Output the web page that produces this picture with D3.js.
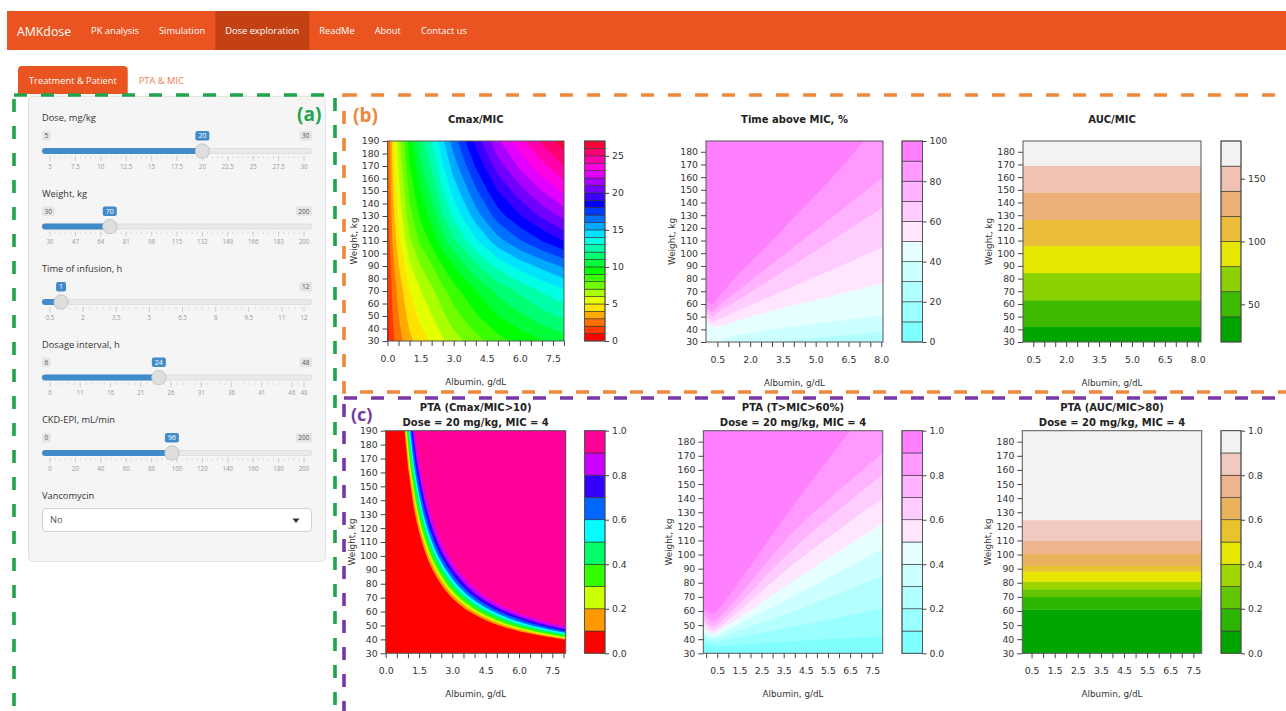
<!DOCTYPE html>
<html>
<head>
<meta charset="utf-8">
<title>AMKdose – Dose exploration</title>
<script src="https://cdn.jsdelivr.net/npm/d3@7"></script>
<style>
  html, body { margin: 0; padding: 0; background: #fff; }
  svg { display: block; }
</style>
</head>
<body>
<svg id="page" width="1286" height="711"></svg>
<script>
// ===================== data =====================

// navigation
const brandName = "AMKdose";
const navItems = ["PK analysis", "Simulation", "Dose exploration", "ReadMe", "About", "Contact us"];
const navActive = "Dose exploration";
const tabItems = ["Treatment & Patient", "PTA & MIC"];

// sidebar inputs
const sliderLabels = ["Dose, mg/kg", "Weight, kg", "Time of infusion, h", "Dosage interval, h", "CKD-EPI, mL/min"];
const sliderMin = [5, 30, 0.5, 6, 0];
const sliderMax = [30, 200, 12, 48, 200];
const sliderValue = [20, 70, 1, 24, 96];
const sliderGrid = [
  [5, 7.5, 10, 12.5, 15, 17.5, 20, 22.5, 25, 27.5, 30],
  [30, 47, 64, 81, 98, 115, 132, 149, 166, 183, 200],
  [0.5, 2, 3.5, 5, 6.5, 8, 9.5, 11, 12],
  [6, 11, 16, 21, 26, 31, 36, 41, 46, 48],
  [0, 20, 40, 60, 80, 100, 120, 140, 160, 180, 200]
];
const selectLabel = "Vancomycin";
const selectValue = "No";

// (b) Cmax/MIC surface: rows = weight, columns = albumin
const cmaxAlbumin = [0, 0.25, 0.5, 1, 1.5, 2, 2.5, 3, 4, 5, 6, 7, 8];
const cmaxWeight = [30, 50, 70, 90, 110, 130, 150, 170, 190];
const cmaxOverMic = [
  [0.71, 1.78, 2.57, 3.75, 4.54, 5.14, 5.85, 6.52, 7.62, 8.61, 9.32, 9.95, 10.5],
  [0.83, 2.07, 2.98, 4.36, 5.28, 5.97, 6.79, 7.57, 8.86, 10.0, 10.8, 11.6, 12.2],
  [0.93, 2.34, 3.37, 4.93, 5.97, 6.75, 7.68, 8.56, 10.0, 11.3, 12.2, 13.1, 13.8],
  [1.10, 2.74, 3.96, 5.79, 7.00, 7.92, 9.01, 10.0, 11.8, 13.3, 14.4, 15.3, 16.2],
  [1.29, 3.21, 4.64, 6.78, 8.21, 9.28, 10.6, 11.8, 13.8, 15.6, 16.9, 18.0, 19.0],
  [1.44, 3.60, 5.21, 7.61, 9.21, 10.4, 11.9, 13.2, 15.5, 17.5, 18.9, 20.2, 21.3],
  [1.57, 3.92, 5.67, 8.28, 10.0, 11.3, 12.9, 14.4, 16.8, 19.0, 20.6, 22.0, 23.2],
  [1.69, 4.23, 6.11, 8.93, 10.8, 12.2, 13.9, 15.5, 18.1, 20.5, 22.2, 23.7, 25.0],
  [1.80, 4.50, 6.50, 9.50, 11.5, 13.0, 14.8, 16.5, 19.3, 21.8, 23.6, 25.2, 26.6]
];
const cmaxLevels = [0, 1, 2, 3, 4, 5, 6, 7, 8, 9, 10, 11, 12, 13, 14, 15, 16, 17, 18, 19, 20, 21, 22, 23, 24, 25, 26, 27];

// (b) Time above MIC, %: iso-lines [albumin, weight]
const timeBarLevels = [0, 10, 20, 30, 40, 50, 60, 70, 80, 90, 100];
const timeFloor = 20;
const timeLevels = [30, 40, 50, 60, 70, 80, 90];
const timeContours = [
  [[3, 30], [5, 33], [8.08, 38]],
  [[0.6, 30], [1, 33.5], [2, 37], [4, 42], [6, 46.5], [8.08, 51]],
  [[-0.02, 47], [0.3, 42], [0.6, 42.5], [2, 50], [4, 59], [6, 67.5], [8.08, 76.5]],
  [[-0.02, 50], [0.3, 46], [0.6, 48], [2, 59], [4, 74], [6, 89], [8.08, 105]],
  [[-0.02, 54], [0.3, 50], [0.6, 54], [2, 69], [4, 91], [6, 113], [8.08, 136]],
  [[-0.02, 57], [0.3, 54], [0.6, 59], [2, 78], [4, 105], [6, 132], [8.08, 160]],
  [[-0.02, 62], [0.3, 60], [0.6, 66], [1.5, 84], [2.5, 101], [3.5, 119], [4.5, 137], [5.5, 155], [6.5, 174], [7.2, 188.5]]
];

// (b) AUC/MIC: weight at which each level is crossed
const aucLevels = [20, 40, 60, 80, 100, 120, 140, 160, 180];
const aucBreakWeight = [42, 63, 84.5, 106, 126.5, 148, 169];

// (c) PTA levels shared by the three maps
const ptaLevels = [0, 0.1, 0.2, 0.3, 0.4, 0.5, 0.6, 0.7, 0.8, 0.9, 1.0];

// (c) PTA (Cmax/MIC>10): iso-lines for 0.1 ... 0.9
const ptaCmaxLevels = [0.1, 0.2, 0.3, 0.4, 0.5, 0.6, 0.7, 0.8, 0.9];
const ptaCmaxContours = [
  [[0.85, 190], [1.04, 160], [1.32, 130], [1.63, 110], [1.96, 95], [2.47, 80], [2.98, 70], [3.76, 60], [4.77, 52], [5.96, 46], [8.1, 39.7]],
  [[0.90, 190], [1.09, 160], [1.40, 130], [1.72, 110], [2.07, 95], [2.60, 80], [3.15, 70], [3.97, 60], [5.03, 52], [6.29, 46], [8.1, 40.6]],
  [[0.95, 190], [1.15, 160], [1.47, 130], [1.81, 110], [2.18, 95], [2.74, 80], [3.31, 70], [4.18, 60], [5.30, 52], [6.63, 46], [8.1, 41.6]],
  [[0.99, 190], [1.21, 160], [1.55, 130], [1.90, 110], [2.29, 95], [2.88, 80], [3.48, 70], [4.39, 60], [5.57, 52], [6.96, 46], [8.1, 42.6]],
  [[1.04, 190], [1.27, 160], [1.62, 130], [1.99, 110], [2.40, 95], [3.02, 80], [3.65, 70], [4.61, 60], [5.83, 52], [7.29, 46], [8.1, 43.6]],
  [[1.10, 190], [1.33, 160], [1.70, 130], [2.09, 110], [2.52, 95], [3.17, 80], [3.83, 70], [4.84, 60], [6.13, 52], [7.67, 46], [8.1, 44.7]],
  [[1.15, 190], [1.41, 160], [1.80, 130], [2.20, 110], [2.66, 95], [3.34, 80], [4.04, 70], [5.11, 60], [6.47, 52], [8.1, 45.9]],
  [[1.23, 190], [1.49, 160], [1.91, 130], [2.34, 110], [2.82, 95], [3.55, 80], [4.29, 70], [5.42, 60], [6.87, 52], [8.1, 47.4]],
  [[1.31, 190], [1.59, 160], [2.04, 130], [2.50, 110], [3.01, 95], [3.79, 80], [4.58, 70], [5.79, 60], [7.33, 52], [8.1, 49.2]]
];

// (c) PTA (T>MIC>60%): iso-lines for 0.1 ... 0.9
const ptaTimeLevels = [0.1, 0.2, 0.3, 0.4, 0.5, 0.6, 0.7, 0.8, 0.9];
const ptaTimeContours = [
  [[-0.13, 38], [0.3, 35], [1, 35.5], [4, 38.5], [7.97, 42]],
  [[-0.13, 41], [0.3, 38], [1, 40], [4, 49], [7.97, 62]],
  [[-0.13, 43], [0.3, 40], [1, 43.5], [4, 60], [7.97, 85]],
  [[-0.13, 45.5], [0.3, 42], [1, 47], [4, 71], [7.97, 104]],
  [[-0.13, 48], [0.3, 44], [1, 50], [4, 82], [7.97, 122]],
  [[-0.13, 51], [0.3, 46], [1, 53.5], [4, 94], [7.97, 140]],
  [[-0.13, 54], [0.3, 49], [1, 57.5], [4, 105], [7.97, 157]],
  [[-0.13, 57.5], [0.3, 52.5], [1, 62], [4, 117], [7.97, 172]],
  [[-0.13, 62], [0.3, 58], [1, 70], [2, 92], [4, 136], [6.5, 187.8]]
];

// (c) PTA (AUC/MIC>80): weight at which 0.1 ... 0.9 is crossed
const ptaAucBreakWeight = [61, 70, 75.5, 81, 88, 92, 101, 110, 124.5];

// ===================== helpers =====================
const svg = d3.select("#page");
const W = 1286;
const UI = "'Open Sans', 'DejaVu Sans', sans-serif";
const PF = "'DejaVu Sans', sans-serif";

function hsv(h, s, v) {
  const i = Math.floor(h * 6), f = h * 6 - i;
  const p = v * (1 - s), q = v * (1 - f * s), t = v * (1 - (1 - f) * s);
  let r, g, b;
  switch (((i % 6) + 6) % 6) {
    case 0: r = v; g = t; b = p; break;
    case 1: r = q; g = v; b = p; break;
    case 2: r = p; g = v; b = t; break;
    case 3: r = p; g = q; b = v; break;
    case 4: r = t; g = p; b = v; break;
    default: r = v; g = p; b = q;
  }
  return d3.rgb(r * 255, g * 255, b * 255).formatHex();
}
const seq = (a, b, n) => n === 1 ? [a] : d3.range(n).map(i => a + (b - a) * i / (n - 1));
function rainbow(n) { return d3.range(n).map(k => hsv(k / n, 1, 1)); }
function cmColors(n) {
  const even = n % 2 === 0, k = Math.floor(n / 2);
  const l1 = k + 1 - (even ? 1 : 0), l2 = n - k + (even ? 1 : 0);
  const c1 = seq(0.5, even ? 0.5 / k : 0, l1).map(s => hsv(6 / 12, s, 1));
  const c2 = seq(0, 0.5, l2).slice(1).map(s => hsv(10 / 12, s, 1));
  return c1.concat(c2);
}
function terrainColors(n) {
  const k = Math.floor(n / 2), m = n - k + 1;
  const h1 = seq(4 / 12, 2 / 12, k), v1 = seq(0.65, 0.9, k);
  const h2 = seq(2 / 12, 0, m).slice(1), s2 = seq(1, 0, m).slice(1), v2 = seq(0.9, 0.95, m).slice(1);
  return h1.map((h, i) => hsv(h, 1, v1[i])).concat(h2.map((h, i) => hsv(h, s2[i], v2[i])));
}
const bandIndex = (levels, v) => d3.bisectLeft(levels, v - 1e-9);

// ===================== page chrome =====================
// navbar
svg.append("rect").attr("x", 7).attr("y", 11).attr("width", W - 7).attr("height", 39).attr("fill", "#E95420");
const navBg = svg.append("g");
const brand = svg.append("text").attr("x", 17).attr("y", 35.5)
  .attr("font-family", UI).attr("font-size", 12.3).attr("fill", "#fff").text(brandName);
let cursor = 17 + brand.node().getComputedTextLength() + 10;
navItems.forEach(name => {
  const t = svg.append("text").attr("x", cursor + 10).attr("y", 34.3)
    .attr("font-family", UI).attr("font-size", 9.3).attr("fill", "#fff").text(name);
  const w = t.node().getComputedTextLength();
  if (name === navActive) {
    navBg.append("rect").attr("x", cursor).attr("y", 11).attr("width", w + 20).attr("height", 39).attr("fill", "#C34113");
  }
  cursor += w + 20;
});

// tabs
{
  const t0 = svg.append("text").attr("font-family", UI).attr("font-size", 9.3).text(tabItems[0]);
  const w0 = t0.node().getComputedTextLength();
  t0.remove();
  const tabW = w0 + 22;
  svg.append("path")
    .attr("d", `M18,94 V70 Q18,66 22,66 H${18 + tabW - 4} Q${18 + tabW},66 ${18 + tabW},70 V94 Z`)
    .attr("fill", "#E95420");
  svg.append("text").attr("x", 18 + tabW / 2).attr("y", 83.5).attr("text-anchor", "middle")
    .attr("font-family", UI).attr("font-size", 9.3).attr("fill", "#fff").text(tabItems[0]);
  svg.append("text").attr("x", 18 + tabW + 11).attr("y", 83.5)
    .attr("font-family", UI).attr("font-size", 9.3).attr("fill", "#EC7A50").text(tabItems[1]);
}

// sidebar well
svg.append("rect").attr("x", 28.5).attr("y", 96.5).attr("width", 297).attr("height", 465)
  .attr("rx", 4).attr("fill", "#f5f5f5").attr("stroke", "#e3e3e3");

// sliders
sliderLabels.forEach((label, i) => {
  const ty = 151 + i * 75.5;
  const g = svg.append("g");
  const sx = d3.scaleLinear().domain([sliderMin[i], sliderMax[i]]).range([50, 304]);
  const fmt = v => String(v);
  g.append("text").attr("x", 42).attr("y", ty - 30).attr("font-family", UI).attr("font-size", 9.3)
    .attr("fill", "#333").text(label);
  // track
  g.append("rect").attr("x", 42).attr("y", ty - 2.5).attr("width", 270).attr("height", 5).attr("rx", 2.5)
    .attr("fill", "#e9e9e9").attr("stroke", "#d4d4d4").attr("stroke-width", 0.6);
  g.append("rect").attr("x", 42).attr("y", ty - 3).attr("width", sx(sliderValue[i]) - 42).attr("height", 6).attr("rx", 3)
    .attr("fill", "#428bca");
  // grid
  const grid = sliderGrid[i];
  const big = sx(grid[1]) - sx(grid[0]);
  for (let px = 50; px <= 304.01; px += big / 5) {
    g.append("line").attr("x1", px).attr("x2", px).attr("y1", ty + 5).attr("y2", ty + 7.5)
      .attr("stroke", "#d0d0d0").attr("stroke-width", 0.7);
  }
  grid.forEach(v => {
    g.append("line").attr("x1", sx(v)).attr("x2", sx(v)).attr("y1", ty + 5).attr("y2", ty + 10)
      .attr("stroke", "#c8c8c8").attr("stroke-width", 0.8);
    g.append("text").attr("x", sx(v)).attr("y", ty + 17.5).attr("text-anchor", "middle")
      .attr("font-family", UI).attr("font-size", 6.2).attr("fill", "#999").text(fmt(v));
  });
  // handle
  g.append("circle").attr("cx", sx(sliderValue[i])).attr("cy", ty).attr("r", 7.2)
    .attr("fill", "#dedede").attr("stroke", "#bdbdbd").attr("stroke-width", 0.8);
  // value bubble
  const vb = g.append("g");
  const vt = vb.append("text").attr("x", sx(sliderValue[i])).attr("y", ty - 12.8).attr("text-anchor", "middle")
    .attr("font-family", UI).attr("font-size", 7).attr("fill", "#fff").text(fmt(sliderValue[i]));
  const vw = vt.node().getComputedTextLength() + 6;
  const vLeft = sx(sliderValue[i]) - vw / 2, vRight = sx(sliderValue[i]) + vw / 2;
  vb.insert("rect", "text").attr("x", vLeft).attr("y", ty - 20).attr("width", vw).attr("height", 9.5)
    .attr("rx", 2).attr("fill", "#428bca");
  // min / max boxes
  [[sliderMin[i], "start"], [sliderMax[i], "end"]].forEach(([v, anchor]) => {
    const bx = g.append("g");
    const t = bx.append("text").attr("font-family", UI).attr("font-size", 6.5).attr("fill", "#555")
      .attr("y", ty - 12.8).text(fmt(v));
    const w = t.node().getComputedTextLength() + 5;
    const left = anchor === "start" ? 42 : 312 - w;
    if (left < vRight + 1 && left + w > vLeft - 1) { bx.remove(); return; }
    t.attr("x", left + w / 2).attr("text-anchor", "middle");
    bx.insert("rect", "text").attr("x", left).attr("y", ty - 20).attr("width", w).attr("height", 9.5)
      .attr("rx", 1.5).attr("fill", "#e5e5e5");
  });
});

// select input
svg.append("text").attr("x", 42).attr("y", 498.5).attr("font-family", UI).attr("font-size", 9.3)
  .attr("fill", "#333").text(selectLabel);
svg.append("rect").attr("x", 42.5).attr("y", 508.5).attr("width", 269).attr("height", 23).attr("rx", 3.5)
  .attr("fill", "#fff").attr("stroke", "#d2d2d2");
svg.append("text").attr("x", 50).attr("y", 523.3).attr("font-family", UI).attr("font-size", 9.3)
  .attr("fill", "#555").text(selectValue);
svg.append("path").attr("d", "M292.5,518.5 L299.5,518.5 L296,523 Z").attr("fill", "#333");

// ===================== plots =====================
function gridField(albumin, weight, values, levels, colors) {
  return (g, x, y) => {
    const nx = albumin.length, ny = weight.length;
    const ix = d3.scaleLinear().domain(d3.range(nx)).range(albumin);
    const iy = d3.scaleLinear().domain(d3.range(ny)).range(weight);
    const proj = d3.geoTransform({
      point(u, v) {
        const a = ix(Math.max(0, Math.min(nx - 1, u - 0.5)));
        const w = iy(Math.max(0, Math.min(ny - 1, v - 0.5)));
        this.stream.point(x(a), y(w));
      }
    });
    const path = d3.geoPath(proj);
    const bands = d3.contours().size([nx, ny]).thresholds(levels.slice(0, -1))(values.flat());
    g.selectAll("path.band").data(bands).join("path").attr("class", "band")
      .attr("d", path).attr("fill", d => colors[bandIndex(levels, d.value)]);
  };
}

// filled iso-lines: the high side of every line lies towards `high` ("topLeft" | "topRight")
function lineField(barLevels, floor, levels, lines, colors, high) {
  return (g, x, y) => {
    const [x0, x1] = x.domain(), [y0, y1] = y.domain();
    g.append("rect").attr("x", x(x0)).attr("y", y(y1)).attr("width", x(x1) - x(x0)).attr("height", y(y0) - y(y1))
      .attr("fill", colors[bandIndex(barLevels, floor)]);
    const line = d3.line().x(d => x(d[0])).y(d => y(d[1])).curve(d3.curveCatmullRom.alpha(0.5));
    const corners = high === "topLeft" ? [[x1, y1], [x0, y1], [x0, y0]] : [[x1, y0], [x1, y1]];
    levels.forEach((lv, k) => {
      const d = line(lines[k]) + corners.map(c => `L${x(c[0])},${y(c[1])}`).join("") + "Z";
      g.append("path").attr("d", d).attr("fill", colors[bandIndex(barLevels, lv)]);
    });
  };
}

function stripField(levels, breaks, colors) {
  return (g, x, y) => {
    const [x0, x1] = x.domain(), [y0, y1] = y.domain();
    const bounds = [y0, ...breaks, y1];
    d3.range(bounds.length - 1).forEach(i => {
      g.append("rect").attr("x", x(x0)).attr("width", x(x1) - x(x0))
        .attr("y", y(bounds[i + 1])).attr("height", y(bounds[i]) - y(bounds[i + 1]) + 0.3)
        .attr("fill", colors[i]);
    });
  };
}

const stepTicks = (from, to, lo, hi) => d3.range(from, to + 1e-9, 0.5).filter(v => v >= lo - 1e-9 && v <= hi + 1e-9);

const rb27 = rainbow(27), rb10 = rainbow(10), cm10 = cmColors(10), tr8 = terrainColors(8), tr10 = terrainColors(10);

const panels = [
  { box: [387.5, 564, 141, 341], xDomain: [0, 8], yDomain: [30, 190],
    xTicks: stepTicks(0, 8, 0, 8), xLabels: [0, 1.5, 3, 4.5, 6, 7.5], yTicks: d3.range(30, 191, 10),
    cb: [584.5, 605], cbLevels: cmaxLevels, cbColors: rb27, cbTicks: [0, 5, 10, 15, 20, 25], cbFmt: d3.format("d"),
    title: ["Cmax/MIC"],
    field: gridField(cmaxAlbumin, cmaxWeight, cmaxOverMic, cmaxLevels, rb27) },
  { box: [706, 883, 141, 342], xDomain: [-0.02, 8.08], yDomain: [30, 188.5],
    xTicks: stepTicks(0.5, 8, -0.02, 8.08), xLabels: [0.5, 2, 3.5, 5, 6.5, 8], yTicks: d3.range(30, 181, 10),
    cb: [902, 922.5], cbLevels: timeBarLevels, cbColors: cm10, cbTicks: [0, 20, 40, 60, 80, 100], cbFmt: d3.format("d"),
    title: ["Time above MIC, %"],
    field: lineField(timeBarLevels, timeFloor, timeLevels, timeContours, cm10, "topLeft") },
  { box: [1023, 1201, 141, 342], xDomain: [0.03, 8.15], yDomain: [30, 188.5],
    xTicks: stepTicks(0.5, 8, 0.03, 8.15), xLabels: [0.5, 2, 3.5, 5, 6.5, 8], yTicks: d3.range(30, 181, 10),
    cb: [1221, 1241], cbLevels: aucLevels, cbColors: tr8, cbTicks: [50, 100, 150], cbFmt: d3.format("d"),
    title: ["AUC/MIC"],
    field: stripField(aucLevels, aucBreakWeight, tr8) },
  { box: [385.7, 565.7, 430.7, 653.3], xDomain: [0, 8.1], yDomain: [30, 190],
    xTicks: stepTicks(0, 8, 0, 8.1), xLabels: [0, 1.5, 3, 4.5, 6, 7.5], yTicks: d3.range(30, 191, 10),
    cb: [584.5, 605], cbLevels: ptaLevels, cbColors: rb10, cbTicks: [0, 0.2, 0.4, 0.6, 0.8, 1], cbFmt: d3.format(".1f"),
    title: ["PTA (Cmax/MIC>10)", "Dose = 20 mg/kg, MIC = 4"],
    field: lineField(ptaLevels, 0, ptaCmaxLevels, ptaCmaxContours, rb10, "topRight") },
  { box: [703.3, 882.7, 430.7, 653.3], xDomain: [-0.13, 7.97], yDomain: [30, 187.8],
    xTicks: stepTicks(0, 7.5, -0.13, 7.97), xLabels: [0.5, 1.5, 2.5, 3.5, 4.5, 5.5, 6.5, 7.5], yTicks: d3.range(30, 181, 10),
    cb: [902, 922.5], cbLevels: ptaLevels, cbColors: cm10, cbTicks: [0, 0.2, 0.4, 0.6, 0.8, 1], cbFmt: d3.format(".1f"),
    title: ["PTA (T>MIC>60%)", "Dose = 20 mg/kg, MIC = 4"],
    field: lineField(ptaLevels, 0, ptaTimeLevels, ptaTimeContours, cm10, "topLeft") },
  { box: [1022.3, 1201.7, 430.7, 653.3], xDomain: [0.1, 7.86], yDomain: [30, 187.8],
    xTicks: stepTicks(0.5, 7.5, 0.1, 7.86), xLabels: [0.5, 1.5, 2.5, 3.5, 4.5, 5.5, 6.5, 7.5], yTicks: d3.range(30, 181, 10),
    cb: [1221, 1241], cbLevels: ptaLevels, cbColors: tr10, cbTicks: [0, 0.2, 0.4, 0.6, 0.8, 1], cbFmt: d3.format(".1f"),
    title: ["PTA (AUC/MIC>80)", "Dose = 20 mg/kg, MIC = 4"],
    field: stripField(ptaLevels, ptaAucBreakWeight, tr10) }
];

const defs = svg.append("defs");
panels.forEach((p, idx) => {
  const [bx0, bx1, by0, by1] = p.box;
  const x = d3.scaleLinear().domain(p.xDomain).range([bx0, bx1]);
  const y = d3.scaleLinear().domain(p.yDomain).range([by1, by0]);
  const g = svg.append("g");

  defs.append("clipPath").attr("id", "plot-clip-" + idx).append("rect")
    .attr("x", bx0).attr("y", by0).attr("width", bx1 - bx0).attr("height", by1 - by0);
  const field = g.append("g").attr("clip-path", `url(#plot-clip-${idx})`);
  p.field(field, x, y);

  g.append("rect").attr("x", bx0).attr("y", by0).attr("width", bx1 - bx0).attr("height", by1 - by0)
    .attr("fill", "none").attr("stroke", "#555").attr("stroke-width", 1);

  const isLabel = v => p.xLabels.some(l => Math.abs(l - v) < 1e-6);
  const xa = g.append("g").attr("transform", `translate(0,${by1})`)
    .call(d3.axisBottom(x).tickValues(p.xTicks).tickSize(5).tickPadding(9.5)
      .tickFormat(v => isLabel(v) ? v.toFixed(1) : ""));
  const ya = g.append("g").attr("transform", `translate(${bx0},0)`)
    .call(d3.axisLeft(y).tickValues(p.yTicks).tickSize(5).tickPadding(3).tickFormat(d3.format("d")));
  [xa, ya].forEach(a => {
    a.select(".domain").remove();
    a.selectAll("line").attr("stroke", "#444");
    a.selectAll("text").attr("font-family", PF).attr("font-size", 9.3).attr("fill", "#333");
  });

  // colour key
  const [cx0, cx1] = p.cb;
  const cy = d3.scaleLinear().domain([p.cbLevels[0], p.cbLevels[p.cbLevels.length - 1]]).range([by1, by0]);
  const key = g.append("g");
  d3.range(p.cbLevels.length - 1).forEach(i => {
    key.append("rect").attr("x", cx0).attr("width", cx1 - cx0)
      .attr("y", cy(p.cbLevels[i + 1])).attr("height", cy(p.cbLevels[i]) - cy(p.cbLevels[i + 1]))
      .attr("fill", p.cbColors[i]).attr("stroke", "#333").attr("stroke-width", 0.6);
  });
  key.append("rect").attr("x", cx0).attr("y", by0).attr("width", cx1 - cx0).attr("height", by1 - by0)
    .attr("fill", "none").attr("stroke", "#555").attr("stroke-width", 1);
  const ka = key.append("g").attr("transform", `translate(${cx1},0)`)
    .call(d3.axisRight(cy).tickValues(p.cbTicks).tickSize(4).tickPadding(3).tickFormat(p.cbFmt));
  ka.select(".domain").remove();
  ka.selectAll("line").attr("stroke", "#444");
  ka.selectAll("text").attr("font-family", PF).attr("font-size", 9.3).attr("fill", "#333");

  // titles
  const cxm = (bx0 + bx1) / 2;
  const tBase = p.title.length === 1 ? by0 - 18.5 : by0 - 19.7;
  p.title.forEach((t, k) => {
    g.append("text").attr("x", cxm).attr("y", tBase + k * 14.5)
      .attr("text-anchor", "middle").attr("font-family", PF).attr("font-weight", "bold")
      .attr("font-size", 10).attr("fill", "#222").text(t);
  });
  g.append("text").attr("x", cxm).attr("y", by1 + 43.5).attr("text-anchor", "middle")
    .attr("font-family", PF).attr("font-size", 8.8).attr("fill", "#333").text("Albumin, g/dL");
  g.append("text").attr("transform", `translate(${bx0 - 34},${(by0 + by1) / 2}) rotate(-90)`)
    .attr("text-anchor", "middle").attr("dy", "0.35em")
    .attr("font-family", PF).attr("font-size", 8.8).attr("fill", "#333").text("Weight, kg");
});

// ===================== section frames =====================
const frames = [
  { x: 14, y: 95, w: 321, h: 700, color: "#20A44C", tag: "(a)", tx: 297, ty: 121 },
  { x: 344, y: 95, w: 1000, h: 297, color: "#EE883A", tag: "(b)", tx: 353, ty: 122 },
  { x: 344, y: 398, w: 1000, h: 400, color: "#7638A6", tag: "(c)", tx: 351, ty: 420.5 }
];
frames.forEach(f => {
  svg.append("rect").attr("x", f.x).attr("y", f.y).attr("width", f.w).attr("height", f.h)
    .attr("fill", "none").attr("stroke", f.color).attr("stroke-width", 3.6).attr("stroke-dasharray", "13 14");
  svg.append("text").attr("x", f.tx).attr("y", f.ty).attr("font-family", UI).attr("font-weight", "bold")
    .attr("font-size", f.tag === "(c)" ? 18 : 19).attr("fill", f.color).text(f.tag);
});
</script>
</body>
</html>
